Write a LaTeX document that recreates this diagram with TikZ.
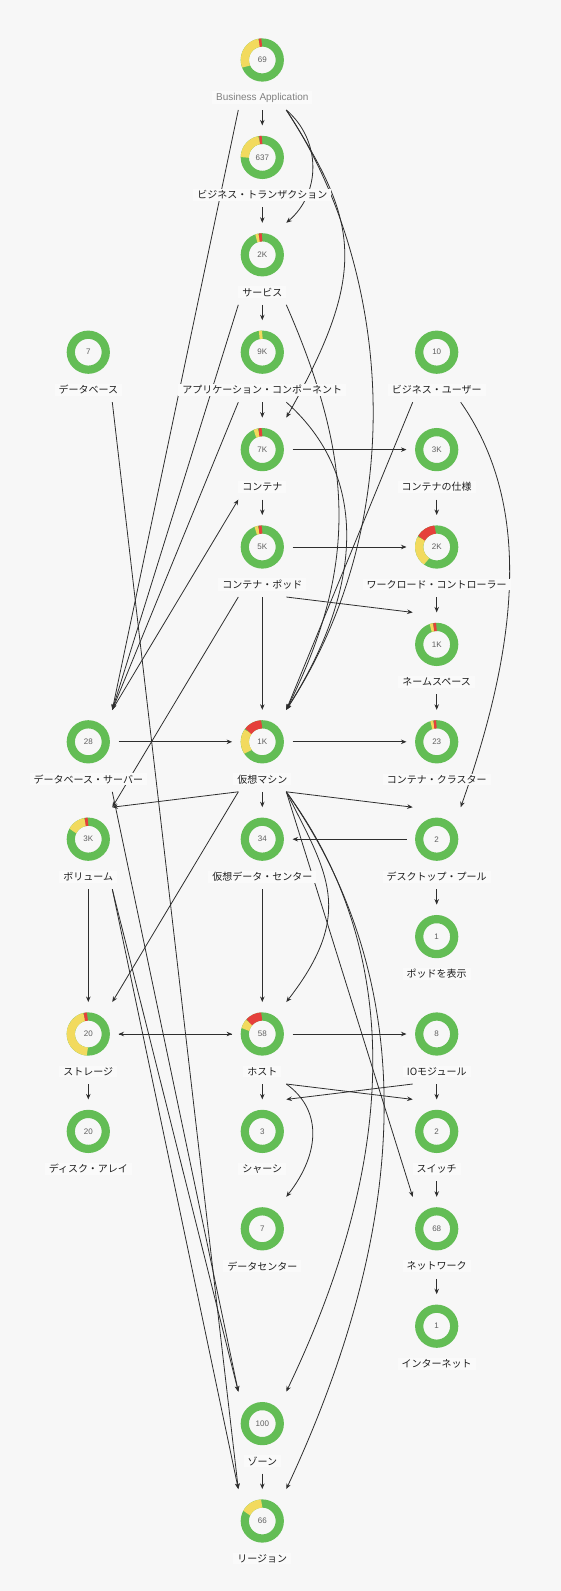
\documentclass[tikz,border=0pt]{standalone}
\usepackage{fontspec}
\newfontfamily\jpfont{Noto Sans CJK JP}
\newfontfamily\latfont{Liberation Sans}
\usetikzlibrary{arrows.meta,calc}
\pgfdeclarelayer{bglayer}
\pgfdeclarelayer{edgelayer}
\pgfsetlayers{bglayer,edgelayer,main}
\definecolor{bgc}{HTML}{F7F7F7}
\definecolor{lblbg}{HTML}{FAFAFA}
\definecolor{dgreen}{HTML}{63BD55}
\definecolor{dyellow}{HTML}{F2DA5E}
\definecolor{dred}{HTML}{E5403B}
\definecolor{edgec}{HTML}{2E2E2E}
\definecolor{numc}{HTML}{5F5F5F}
\tikzset{
  ringnode/.style={circle, minimum size=60pt, inner sep=0pt, font=\latfont\fontsize{8}{9}\selectfont, text=numc},
  lbl/.style={fill=lblbg, inner xsep=4pt, inner ysep=1.5pt, font=\jpfont\fontsize{10}{12}\selectfont, text=black!88},
  conn/.style={draw=edgec, line width=0.8pt, -{Stealth[length=5.5pt,width=4.5pt]}},
}
\newcommand\dn[5]{%
  \node[ringnode] (#1) at (#2,-#3) {#4};
  \draw[line width=8.2pt, dgreen] (#1.center) circle[radius=17.5];
  \node[lbl] (#1-l) at (#2,{-#3-37.5}) {#5};
  \coordinate (#1-t) at (#2,{32-#3});
  \coordinate (#1-tl) at ({#2-24},{32-#3});
  \coordinate (#1-tr) at ({#2+24},{32-#3});
  \coordinate (#1-b) at (#2,{-#3-50});
  \coordinate (#1-bl) at ({#2-24},{-#3-50});
  \coordinate (#1-br) at ({#2+24},{-#3-50});
}
\newcommand\seg[4]{\draw[line width=8.2pt,#4] ($(#1.center)+({90-#2}:17.5)$) arc[start angle={90-#2}, end angle={90-#3}, radius=17.5];}
\begin{document}
\begin{tikzpicture}[x=1pt,y=1pt]
\begin{pgfonlayer}{bglayer}
\fill[bgc] (0,0) rectangle (561,-1591);
\end{pgfonlayer}
\useasboundingbox (0,0) rectangle (561,-1591);
% nodes
\dn{ba}{262.3}{60}{69}{\latfont\color{gray}Business Application}
\dn{bt}{262.3}{157.4}{637}{ビジネス・トランザクション}
\dn{sv}{262.3}{254.8}{2K}{サービス}
\dn{db}{88.3}{352.2}{7}{データベース}
\dn{ac}{262.3}{352.2}{9K}{アプリケーション・コンポーネント}
\dn{bu}{436.7}{352.2}{10}{ビジネス・ユーザー}
\dn{ct}{262.3}{449.6}{7K}{コンテナ}
\dn{cs}{436.7}{449.6}{3K}{コンテナの仕様}
\dn{cp}{262.3}{547}{5K}{コンテナ・ポッド}
\dn{wc}{436.7}{547}{2K}{ワークロード・コントローラー}
\dn{ns}{436.7}{644.4}{1K}{ネームスペース}
\dn{ds}{88.3}{741.8}{28}{データベース・サーバー}
\dn{vm}{262.3}{741.8}{1K}{仮想マシン}
\dn{cc}{436.7}{741.8}{23}{コンテナ・クラスター}
\dn{vol}{88.3}{839.2}{3K}{ボリューム}
\dn{vdc}{262.3}{839.2}{34}{仮想データ・センター}
\dn{dp}{436.7}{839.2}{2}{デスクトップ・プール}
\dn{vp}{436.7}{936.6}{1}{ポッドを表示}
\dn{st}{88.3}{1034}{20}{ストレージ}
\dn{ho}{262.3}{1034}{58}{ホスト}
\dn{io}{436.7}{1034}{8}{IOモジュール}
\dn{da}{88.3}{1131.4}{20}{ディスク・アレイ}
\dn{ch}{262.3}{1131.4}{3}{シャーシ}
\dn{sw}{436.7}{1131.4}{2}{スイッチ}
\dn{dc}{262.3}{1228.8}{7}{データセンター}
\dn{nw}{436.7}{1228.8}{68}{ネットワーク}
\dn{in}{436.7}{1326.2}{1}{インターネット}
\dn{zo}{262.3}{1423.6}{100}{ゾーン}
\dn{re}{262.3}{1521}{66}{リージョン}
% status segments
\seg{ba}{248}{350}{dyellow}\seg{ba}{350}{358}{dred}
\seg{bt}{270}{350}{dyellow}\seg{bt}{351}{359}{dred}
\seg{sv}{340}{350}{dyellow}\seg{sv}{350}{359}{dred}
\seg{ac}{350}{360}{dyellow}
\seg{ct}{335}{349}{dyellow}\seg{ct}{349}{359}{dred}
\seg{cp}{338}{349}{dyellow}\seg{cp}{349}{359}{dred}
\seg{wc}{215}{299}{dyellow}\seg{wc}{300}{355}{dred}
\seg{ns}{340}{350}{dyellow}\seg{ns}{350}{359}{dred}
\seg{vm}{235}{306}{dyellow}\seg{vm}{307}{358}{dred}
\seg{cc}{342}{351}{dyellow}\seg{cc}{351}{359}{dred}
\seg{vol}{298}{350}{dyellow}\seg{vol}{350}{359}{dred}
\seg{st}{183}{347}{dyellow}\seg{st}{347}{357}{dred}
\seg{ho}{285}{312}{dyellow}\seg{ho}{312}{358}{dred}
\seg{re}{297}{358}{dyellow}
% edges
\begin{pgfonlayer}{edgelayer}
% vertical
\draw[conn] (ba-b) -- (bt-t);
\draw[conn] (bt-b) -- (sv-t);
\draw[conn] (sv-b) -- (ac-t);
\draw[conn] (ac-b) -- (ct-t);
\draw[conn] (ct-b) -- (cp-t);
\draw[conn] (cp-b) -- (vm-t);
\draw[conn] (vm-b) -- (vdc-t);
\draw[conn] (vdc-b) -- (ho-t);
\draw[conn] (ho-b) -- (ch-t);
\draw[conn] (cs-b) -- (wc-t);
\draw[conn] (wc-b) -- (ns-t);
\draw[conn] (ns-b) -- (cc-t);
\draw[conn] (dp-b) -- (vp-t);
\draw[conn] (io-b) -- (sw-t);
\draw[conn] (sw-b) -- (nw-t);
\draw[conn] (nw-b) -- (in-t);
\draw[conn] (vol-b) -- (st-t);
\draw[conn] (st-b) -- (da-t);
\draw[conn] (zo-b) -- (re-t);
% horizontal
\draw[conn] (ct.east) -- (cs.west);
\draw[conn] (cp.east) -- (wc.west);
\draw[conn] (ds.east) -- (vm.west);
\draw[conn] (vm.east) -- (cc.west);
\draw[conn] (ho.east) -- (io.west);
\draw[conn] (st.east) -- (ho.west);
\draw[conn] (ho.west) -- (st.east);
\draw[conn] (dp.west) -- (vdc.east);
% straight diagonals
\draw[conn] (ba-bl) -- (ds-tr);
\draw[conn] (sv-bl) -- (ds-tr);
\draw[conn] (ac-bl) -- (ds-tr);
\draw[conn] (ds-tr) -- (ct-bl);
\draw[conn] (cp-bl) -- (vol-tr);
\draw[conn] (vm-bl) -- (vol-tr);
\draw[conn] (vm-bl) -- (st-tr);
\draw[conn] (bu-bl) -- (vm-tr);
\draw[conn] (cp-br) -- (ns-tl);
\draw[conn] (vm-br) -- (dp-tl);
\draw[conn] (vm-br) -- (nw-tl);
\draw[conn] (ho-br) -- (sw-tl);
\draw[conn] (io-bl) -- (ch-tr);
\draw[conn] (db-br) -- (re-tl);
\draw[conn] (ds-br) -- (zo-tl);
\draw[conn] (vol-br) -- (zo-tl);
\draw[conn] (vol-br) -- (re-tl);
% curves
\draw[conn] (ba-br) .. controls +(35,-30) and +(35,30) .. (sv-tr);
\draw[conn] (ba-br) .. controls +(70,-110) and +(85,150) .. (ct-tr);
\draw[conn] (ba-br) .. controls +(100,-150) and +(130,200) .. (vm-tr);
\draw[conn] (sv-br) .. controls +(70,-160) and +(70,140) .. (vm-tr);
\draw[conn] (ac-br) .. controls +(90,-80) and +(70,110) .. (vm-tr);
\draw[conn] (bu-br) .. controls +(70,-100) and +(60,170) .. (dp-tr);
\draw[conn] (vm-br) .. controls +(40,-80) and +(70,90) .. (ho-tr);
\draw[conn] (ho-br) .. controls +(35,-25) and +(35,45) .. (dc-tr);
\draw[conn] (vm-br) .. controls +(110,-150) and +(120,250) .. (zo-tr);
\draw[conn] (vm-br) .. controls +(120,-170) and +(140,300) .. (re-tr);
\end{pgfonlayer}
\end{tikzpicture}
\end{document}
